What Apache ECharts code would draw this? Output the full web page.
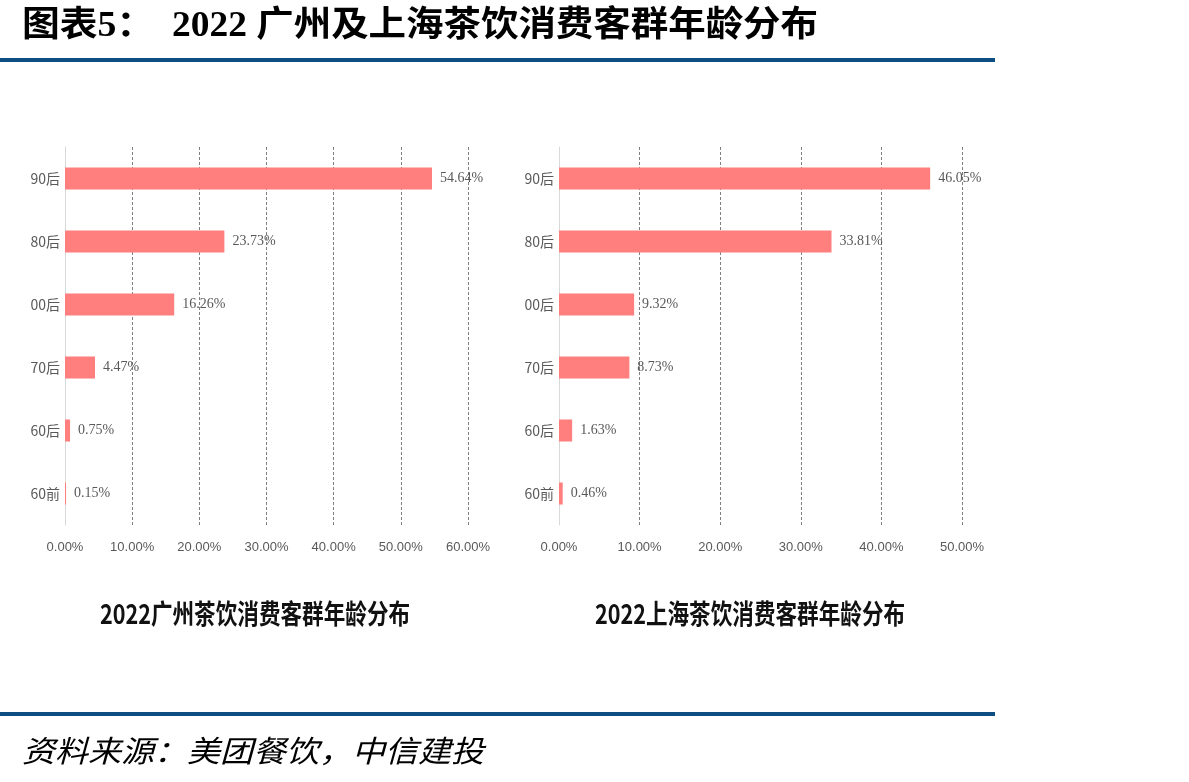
<!DOCTYPE html>
<html><head><meta charset="utf-8">
<script src="https://cdn.jsdelivr.net/npm/echarts@6/dist/echarts.min.js"></script>
<style>html,body{margin:0;padding:0;background:#fff}#c{width:1189px;height:782px}</style>
</head><body><div id="c"></div>
<script>
const categories = ['60前','60后','70后','00后','80后','90后'];
const gzValues = [0.15, 0.75, 4.47, 16.26, 23.73, 54.64];
const shValues = [0.46, 1.63, 8.73, 9.32, 33.81, 46.05];
const gzTitle = '2022广州茶饮消费客群年龄分布';
const shTitle = '2022上海茶饮消费客群年龄分布';
const mainTitleA = '图表5：';
const mainTitleB = '2022 广州及上海茶饮消费客群年龄分布';
const sourceText = '资料来源：美团餐饮，中信建投';

const chart = echarts.init(document.getElementById('c'), null, {renderer:'canvas'});
const gray = '#595959';
const barColor = '#ff7f7f';
function xAxis(gi, max){
  return {gridIndex:gi, type:'value', min:0, max:max, interval:10,
    axisLine:{show:false}, axisTick:{show:false},
    axisLabel:{color:gray, fontSize:13, margin:16, fontFamily:'Liberation Sans Narrow, Arial Narrow, sans-serif',
      formatter:v=>v.toFixed(2)+'%'},
    splitLine:{show:true, lineStyle:{color:'#7f7f7f', type:[3,2], width:1}}};
}
function yAxis(gi){
  return {gridIndex:gi, type:'category', data:categories,
    axisLine:{show:true, lineStyle:{color:'#d9d9d9', width:1}}, axisTick:{show:false},
    axisLabel:{color:gray, fontSize:14, margin:5, fontFamily:'Noto Sans CJK SC, sans-serif'}};
}
function series(gi, vals){
  return {type:'bar', xAxisIndex:gi, yAxisIndex:gi, data:vals, barWidth:'35%',
    itemStyle:{color:barColor},
    label:{show:true, position:'right', distance:8, color:gray, fontSize:14,
      fontFamily:'Liberation Serif, serif', formatter:p=>p.value.toFixed(2)+'%'}};
}
chart.setOption({
  animation:false,
  grid:[{left:65, right:1189-468, top:147, height:378},
        {left:559, right:1189-962, top:147, height:378}],
  xAxis:[xAxis(0,60), xAxis(1,50)],
  yAxis:[yAxis(0), yAxis(1)],
  series:[series(0,gzValues), series(1,shValues)],
  graphic:[
    {type:'text', x:22, y:27, scaleX:1.08, style:{text:mainTitleA, font:'bold 35px "Liberation Serif","Noto Sans CJK SC"', fill:'#000', verticalAlign:'middle'}},
    {type:'text', x:172, y:27, scaleX:1.07, style:{text:mainTitleB, font:'bold 35px "Liberation Serif","Noto Sans CJK SC"', fill:'#000', verticalAlign:'middle'}},
    {type:'rect', shape:{x:0, y:58, width:995, height:4}, style:{fill:'#0d4d82'}},
    {type:'text', x:255, y:614, scaleX:0.80, style:{text:gzTitle, font:'bold 27px "Noto Sans CJK SC"', fill:'#111', align:'center', verticalAlign:'middle'}},
    {type:'text', x:750, y:614, scaleX:0.80, style:{text:shTitle, font:'bold 27px "Noto Sans CJK SC"', fill:'#111', align:'center', verticalAlign:'middle'}},
    {type:'rect', shape:{x:0, y:712, width:995, height:4}, style:{fill:'#0d4d82'}},
    {type:'text', x:22, y:751, scaleX:1.1, style:{text:sourceText, font:'italic 30px "Noto Sans CJK SC"', fill:'#000', verticalAlign:'middle'}}
  ]
});
</script></body></html>
